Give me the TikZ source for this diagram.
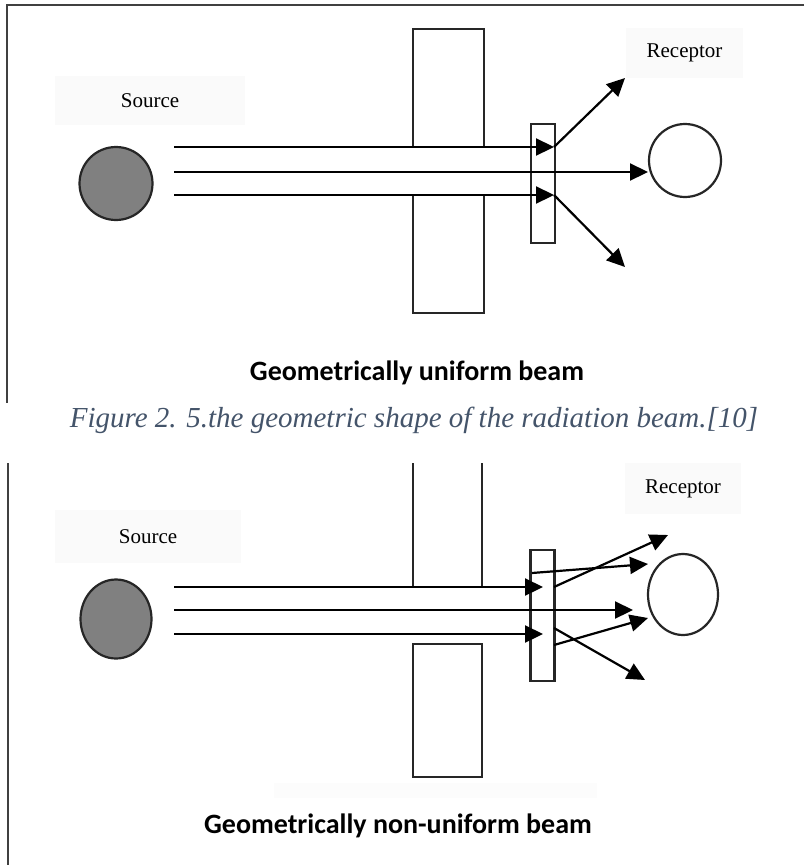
\documentclass[tikz,border=0pt]{standalone}
\usepackage{fontspec}
\setmainfont{Liberation Serif}
\newfontfamily\calibri{Carlito}
\usetikzlibrary{arrows.meta,shapes.geometric}
\definecolor{capblue}{HTML}{44546A}
\definecolor{labelbg}{HTML}{FAFAFA}
\definecolor{faintbg}{HTML}{FCFCFC}
\definecolor{framegray}{HTML}{404040}
\definecolor{srcgray}{HTML}{808080}
\begin{document}
\begin{tikzpicture}[x=1pt,y=-1pt,
  beam/.style={-{Triangle[length=18pt,width=17pt]}, line width=2.2pt, draw=black},
  wall/.style={draw=black!85, line width=2.2pt},
  lbl/.style={fill=labelbg, inner sep=0pt, font=\fontsize{21}{25}\selectfont},
  frame/.style={draw=framegray, line width=2.2pt},
  ball/.style={ellipse, draw=black!85, line width=2.2pt, inner sep=0pt},
  filterbox/.style={rectangle, draw=black!85, line width=2.2pt, inner sep=0pt, minimum width=24pt},
  title/.style={font=\calibri\bfseries\fontsize{28}{32}\selectfont},
  caption/.style={text=capblue, font=\itshape\fontsize{29}{34}\selectfont}
]
\useasboundingbox (0,0) rectangle (804,865);
\fill[white] (0,0) rectangle (804,865);

% ---------------- top panel ----------------
\draw[frame] (804,5) -- (7,5) -- (7,403);

\node[lbl, minimum width=190pt, minimum height=49pt] (srcA) at (150,100.5) {Source};
\node[lbl, minimum width=117pt, minimum height=50pt] (recA) at (684.5,53) {Receptor};

\node[ball, fill=srcgray, minimum width=73pt, minimum height=73pt] (sA) at (116,183.5) {};
\node[ball, fill=white, minimum width=72pt, minimum height=73pt] (rA) at (685,160.5) {};

% collimator (top panel)
\draw[wall] (413,147) -- (413,29) -- (484,29) -- (484,147);
\draw[wall] (413,195) -- (413,313) -- (484,313) -- (484,195);

% filter
\node[filterbox, minimum height=119pt] (fA) at (543,183.5) {};

\coordinate (a1s) at (174,147);
\coordinate (a2s) at (174,172);
\coordinate (a3s) at (174,195);
\coordinate (a1e) at (554,147);
\coordinate (a2e) at (648,172);
\coordinate (a3e) at (554,195);
\coordinate (a4e) at (625,78);
\coordinate (a5e) at (625,267);

\draw[beam] (a1s) -- (a1e);
\draw[beam] (a2s) -- (a2e);
\draw[beam] (a3s) -- (a3e);
\draw[beam] (a1e) -- (a4e);
\draw[beam] (a3e) -- (a5e);

\node[title] (tA) at (417,373) {Geometrically uniform beam};

% ---------------- caption ----------------
\node[caption] (cap) at (414,420) {Figure 2. 5.the geometric shape of the radiation beam.[10]};

% ---------------- bottom panel ----------------
\draw[frame] (8,463) -- (8,865);

\node[lbl, minimum width=186pt, minimum height=53pt] (srcB) at (148,536.5) {Source};
\node[lbl, minimum width=116pt, minimum height=51pt] (recB) at (683,488.5) {Receptor};

\node[ball, fill=srcgray, minimum width=71pt, minimum height=79pt] (sB) at (116,619) {};
\node[ball, fill=white, minimum width=70pt, minimum height=81pt] (rB) at (683,594.5) {};

% collimator (bottom panel)
\draw[wall] (413,463) -- (413,587);
\draw[wall] (482,463) -- (482,587);
\fill[faintbg] (274,783) rectangle (597,798);
\draw[wall] (413,644) rectangle (482,777);

% filter
\node[filterbox, minimum height=131pt] (fB) at (542.5,615.5) {};

\coordinate (b1s) at (174,587);
\coordinate (b2s) at (174,610);
\coordinate (b3s) at (174,634);
\coordinate (b1e) at (543,587);
\coordinate (b2e) at (633,610);
\coordinate (b3e) at (543,634);

\draw[beam] (b1s) -- (b1e);
\draw[beam] (b2s) -- (b2e);
\draw[beam] (b3s) -- (b3e);

\coordinate (s1s) at (532,573);
\coordinate (s1e) at (648,564);
\coordinate (s2s) at (554,587);
\coordinate (s2e) at (668,535);
\coordinate (s3s) at (554,645);
\coordinate (s3e) at (648,618);
\coordinate (s4s) at (554,628);
\coordinate (s4e) at (645,680);

\draw[beam] (s1s) -- (s1e);
\draw[beam] (s2s) -- (s2e);
\draw[beam] (s3s) -- (s3e);
\draw[beam] (s4s) -- (s4e);

\node[title] (tB) at (398,826) {Geometrically non-uniform beam};
\end{tikzpicture}
\end{document}
